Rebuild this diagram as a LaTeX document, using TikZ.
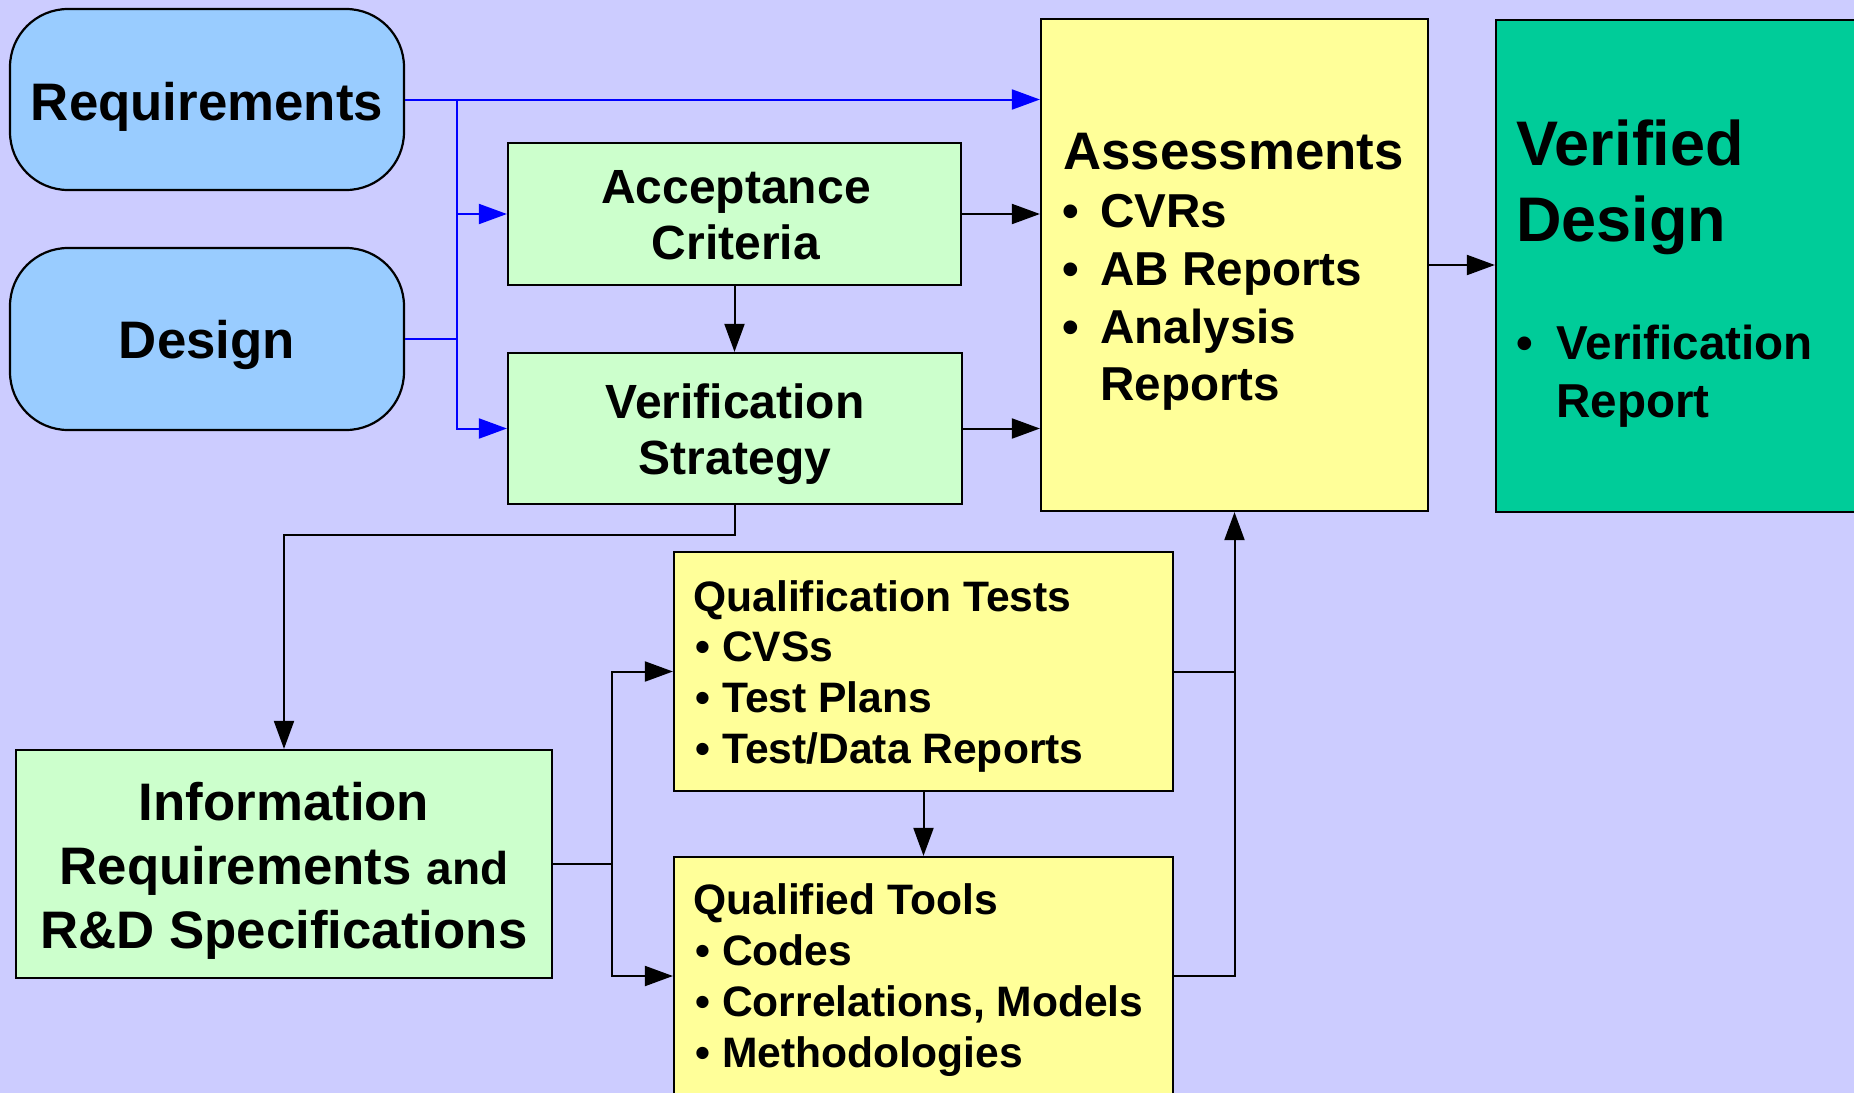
\documentclass[tikz,border=0pt]{standalone}
\usepackage{fontspec}
\setmainfont{Liberation Sans}
\usetikzlibrary{arrows.meta}
\definecolor{bgc}{HTML}{CCCCFF}
\definecolor{bluebox}{HTML}{99CCFF}
\definecolor{greenbox}{HTML}{CCFFCC}
\definecolor{yellowbox}{HTML}{FFFF99}
\definecolor{tealbox}{HTML}{00CC99}
\definecolor{bluelink}{HTML}{0000FF}
\newcommand\fsz[1]{\fontsize{#1}{#1}\selectfont}
\begin{document}
\begin{tikzpicture}[x=0.5pt,y=-0.5pt,
  boxs/.style={draw=black, line width=1.1pt, inner sep=0pt},
  rbox/.style={boxs, rounded corners=29pt, fill=bluebox},
  txt/.style={inner sep=0pt, font=\bfseries, text=black},
  conn/.style={draw=black, line width=1pt},
  arr/.style={conn, -{Triangle[length=14pt,width=10pt]}},
  bconn/.style={draw=bluelink, line width=1pt},
  barr/.style={bconn, -{Triangle[length=14pt,width=10pt]}}]
\fill[bgc] (0,0) rectangle (1854,1093);
\useasboundingbox (0,0) rectangle (1854,1093);
\clip (0,0) rectangle (1854,1093);

% boxes
\node[rbox, minimum width=197pt, minimum height=90.5pt] (Req) at (207,99.5) {};
\node[rbox, minimum width=197pt, minimum height=91pt] (Des) at (207,339) {};
\node[boxs, fill=greenbox, minimum width=226.5pt, minimum height=71pt] (AC) at (734.5,214) {};
\node[boxs, fill=greenbox, minimum width=227pt, minimum height=75.5pt] (VS) at (735,428.5) {};
\node[boxs, fill=yellowbox, minimum width=193.5pt, minimum height=246pt] (As) at (1234.5,265) {};
\node[boxs, fill=tealbox, minimum width=182pt, minimum height=246pt] (VD) at (1678,266) {};
\node[boxs, fill=greenbox, minimum width=268pt, minimum height=114pt] (Info) at (284,864) {};
\node[boxs, fill=yellowbox, minimum width=249.5pt, minimum height=119.5pt] (QT) at (923.5,671.5) {};
\node[boxs, fill=yellowbox, minimum width=249.5pt, minimum height=119pt] (QTo) at (923.5,976) {};

% texts
\node[txt, anchor=base] (tReq) at (207,120) {\fsz{26.4}Requirements};
\node[txt, anchor=base] (tDes) at (207,358) {\fsz{26.4}Design};
\node[txt, anchor=base] (tAC1) at (736,203) {\fsz{24}Acceptance};
\node[txt, anchor=base] (tAC2) at (736,259) {\fsz{24}Criteria};
\node[txt, anchor=base] (tVS1) at (735,418) {\fsz{24}Verification};
\node[txt, anchor=base] (tVS2) at (735,474) {\fsz{24}Strategy};

\node[txt, anchor=base west] (tAs) at (1063,169) {\fsz{26.4}Assessments};
\node[txt, anchor=base west] (bAs1) at (1062,227) {\fsz{23.8}•};
\node[txt, anchor=base west] (bAs2) at (1062,285) {\fsz{23.8}•};
\node[txt, anchor=base west] (bAs3) at (1062,343) {\fsz{23.8}•};
\node[txt, anchor=base west] (tAs1) at (1100,227) {\fsz{23.8}CVRs};
\node[txt, anchor=base west] (tAs2) at (1100,285) {\fsz{23.8}AB Reports};
\node[txt, anchor=base west] (tAs3) at (1100,343) {\fsz{23.8}Analysis};
\node[txt, anchor=base west] (tAs4) at (1100,400) {\fsz{23.8}Reports};

\node[txt, anchor=base west] (tVD1) at (1516,165) {\fsz{31.5}Verified};
\node[txt, anchor=base west] (tVD2) at (1516,241) {\fsz{31.5}Design};
\node[txt, anchor=base west] (bVD) at (1516,359) {\fsz{23.8}•};
\node[txt, anchor=base west] (tVD3) at (1556,359) {\fsz{23.8}Verification};
\node[txt, anchor=base west] (tVD4) at (1556,417) {\fsz{23.8}Report};

\node[txt, anchor=base] (tIn1) at (284,820) {\fsz{26.4}Information};
\node[txt, anchor=base] (tIn2) at (284,884) {\fsz{26.4}Requirements \fsz{23}and};
\node[txt, anchor=base] (tIn3) at (284,948) {\fsz{26.4}R\&D Specifications};

\node[txt, anchor=base west] (tQT0) at (693,611) {\fsz{21.3}Qualification Tests};
\node[txt, anchor=base west] (tQT1) at (695,661) {\fsz{21.3}• CVSs};
\node[txt, anchor=base west] (tQT2) at (695,712) {\fsz{21.3}• Test Plans};
\node[txt, anchor=base west] (tQT3) at (695,763) {\fsz{21.3}• Test/Data Reports};

\node[txt, anchor=base west] (tQo0) at (693,914) {\fsz{21.3}Qualified Tools};
\node[txt, anchor=base west] (tQo1) at (695,965) {\fsz{21.3}• Codes};
\node[txt, anchor=base west] (tQo2) at (695,1016) {\fsz{21.3}• Correlations, Models};
\node[txt, anchor=base west] (tQo3) at (695,1067) {\fsz{21.3}• Methodologies};

% connectors
\coordinate (rj) at (457,99.5);
\coordinate (dj) at (457,339);
\draw[barr] (Req.east) -- (Req.east -| As.west);
\draw[bconn] (rj) -- (dj);
\draw[barr] (rj |- AC.west) -- (AC.west);
\draw[barr] (Des.east) -- (dj) |- (VS.west);

\draw[arr] (AC.south) -- (AC.south |- VS.north);
\draw[arr] (AC.east) -- (AC.east -| As.west);
\draw[arr] (VS.east) -- (VS.east -| As.west);
\draw[arr] (As.east) -- (As.east -| VD.west);

\coordinate (vsd) at (735,535);
\draw[arr] (VS.south) -- (vsd) -| (Info.north);

\coordinate (sp) at (612,864);
\draw[conn] (Info.east) -- (sp);
\draw[arr] (sp) |- (QT.west);
\draw[arr] (sp) |- (QTo.west);
\draw[arr] (QT.south) -- (QTo.north);
\draw[conn] (QT.east) -- (QT.east -| As.south);
\draw[arr] (QTo.east) -| (As.south);
\end{tikzpicture}
\end{document}
